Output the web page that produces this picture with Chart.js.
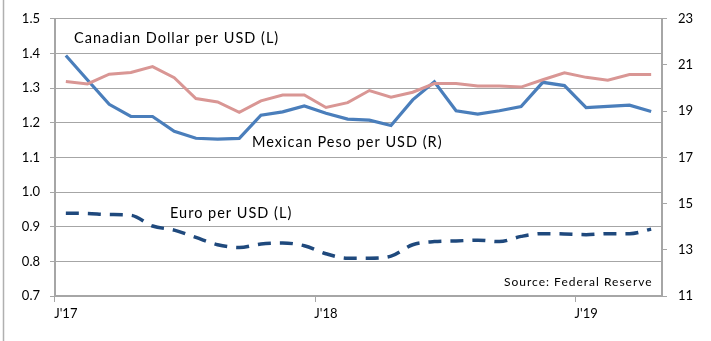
<!DOCTYPE html>
<html>
<head>
<meta charset="utf-8">
<script src="https://cdn.jsdelivr.net/npm/chart.js@4.4.1/dist/chart.umd.min.js"></script>
<style>
  html, body { margin: 0; padding: 0; background: #fff; }
</style>
</head>
<body>
<canvas id="chart" width="711" height="341"></canvas>
<script>
// monthly, Jan 2017 - Apr 2019
const months = ["J'17", '', '', '', '', '', '', '', '', '', '', '',
                "J'18", '', '', '', '', '', '', '', '', '', '', '',
                "J'19", '', '', '']

// Canadian dollar per USD (left axis)
const cad = [1.319, 1.312, 1.340, 1.345, 1.362, 1.330, 1.270, 1.260, 1.230, 1.263, 1.280, 1.280,
             1.244, 1.258, 1.293, 1.274, 1.288, 1.313, 1.313, 1.306, 1.306, 1.303, 1.324, 1.344,
             1.331, 1.323, 1.339, 1.339]

// Mexican peso per USD (right axis)
const mxn = [21.41, 20.35, 19.30, 18.77, 18.77, 18.13, 17.83, 17.79, 17.82, 18.83, 18.97, 19.23,
             18.91, 18.66, 18.61, 18.38, 19.49, 20.27, 19.02, 18.87, 19.02, 19.20, 20.25, 20.11,
             19.16, 19.21, 19.26, 18.99]

// Euro per USD (left axis)
const eur = [0.939, 0.938, 0.935, 0.933, 0.902, 0.890, 0.869, 0.848, 0.840, 0.850, 0.853, 0.845,
             0.822, 0.809, 0.809, 0.815, 0.848, 0.857, 0.859, 0.861, 0.857, 0.872, 0.880, 0.879,
             0.877, 0.880, 0.880, 0.893]

const gridGrey = '#a6a6a6'
const txtFont = 'Lato'

// series labels + source note, and the thin frame line on the left
const notes = {
    id: 'notes',
    beforeDraw(chart) {
        const c = chart.ctx
        c.save()
        c.fillStyle = '#fff'
        c.fillRect(0, 0, chart.width, chart.height)
        c.strokeStyle = '#b0b0b0'
        c.lineWidth = 1.5
        c.beginPath()
        c.moveTo(3.5, 0)
        c.lineTo(3.5, chart.height)
        c.stroke()
        c.restore()
    },
    afterDraw(chart) {
        const c = chart.ctx
        c.save()
        c.fillStyle = '#000'
        c.textBaseline = 'middle'
        c.letterSpacing = '1px'
        c.font = '14.5px ' + txtFont
        c.fillText('Canadian Dollar per USD (L)', 74, 38)
        c.fillText('Mexican Peso per USD (R)', 252, 142)
        c.fillText('Euro per USD (L)', 170, 213)
        c.font = '12px ' + txtFont
        c.fillText('Source: Federal Reserve', 504, 282)
        c.restore()
    }
}

const data = {
    labels: months,
    datasets: [
        {
            label: 'Canadian Dollar per USD (L)',
            data: cad,
            yAxisID: 'yL',
            borderColor: '#d99694',
            borderWidth: 3,
            pointRadius: 0,
            tension: 0
        },
        {
            label: 'Mexican Peso per USD (R)',
            data: mxn,
            yAxisID: 'yR',
            borderColor: '#4a7ebb',
            borderWidth: 3.2,
            pointRadius: 0,
            tension: 0
        },
        {
            label: 'Euro per USD (L)',
            data: eur,
            yAxisID: 'yL',
            borderColor: '#1f497d',
            borderWidth: 3.5,
            borderDash: [13, 9],
            pointRadius: 0,
            cubicInterpolationMode: 'monotone'
        }
    ]
}

const options = {
    responsive: false,
    animation: false,
    layout: { padding: { top: 15, left: 0, right: 0, bottom: 0 } },
    plugins: {
        legend: { display: false },
        tooltip: { enabled: false }
    },
    scales: {
        x: {
            offset: true,
            grid: {
                offset: true,
                drawOnChartArea: false,
                tickLength: 6,
                color: ctx => (ctx.index % 12 === 0 ? gridGrey : 'rgba(0,0,0,0)')
            },
            border: { color: gridGrey, width: 2 },
            ticks: {
                autoSkip: false,
                maxRotation: 0,
                padding: 4,
                color: '#000',
                font: { family: txtFont, size: 13 }
            },
            afterFit: s => { s.height = 45 }
        },
        yL: {
            position: 'left',
            min: 0.7,
            max: 1.5,
            grid: { color: gridGrey, tickLength: 5 },
            border: { color: gridGrey, width: 2 },
            ticks: {
                stepSize: 0.1,
                padding: 10,
                color: '#000',
                font: { family: txtFont, size: 13 },
                callback: v => v.toFixed(1)
            },
            afterFit: s => { s.width = 55 }
        },
        yR: {
            position: 'right',
            min: 11,
            max: 23,
            grid: { drawOnChartArea: false, color: gridGrey, tickLength: 5 },
            border: { color: gridGrey, width: 2 },
            ticks: {
                stepSize: 2,
                padding: 11,
                color: '#000',
                font: { family: txtFont, size: 13 }
            },
            afterFit: s => { s.width = 49 }
        }
    }
}

new Chart('chart', { type: 'line', data, options, plugins: [notes] })
</script>
</body>
</html>
